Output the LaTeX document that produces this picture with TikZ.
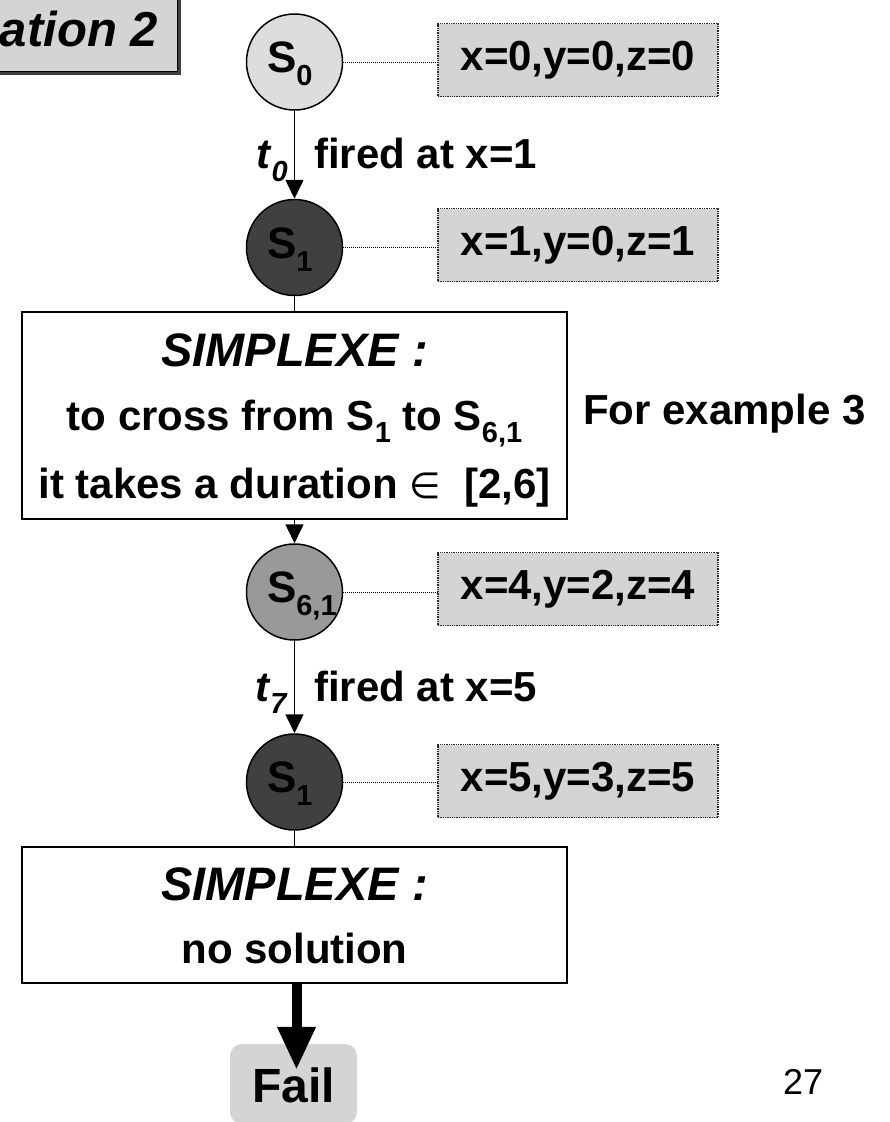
\documentclass[tikz,border=0pt]{standalone}
\usepackage{fontspec}
\setmainfont{Liberation Sans}
\newfontfamily\symfont{DejaVu Sans}
\usetikzlibrary{arrows.meta,calc}
\newcommand\mysub[1]{\raisebox{-0.3em}{\fontsize{29}{29}\selectfont #1}}
\definecolor{lgray}{HTML}{DDDDDD}
\definecolor{dgray}{HTML}{404040}
\definecolor{mgray}{HTML}{999999}
\definecolor{boxgray}{HTML}{D4D4D4}
\tikzset{
  statenode/.style={circle, draw, line width=1.5pt, minimum size=96pt, inner sep=0pt,
    text height=31pt, text depth=10pt, font=\fontsize{44}{44}\selectfont\bfseries},
  valbox/.style={draw=black!85, densely dotted, line width=1.3pt, fill=boxgray,
    minimum width=280pt, minimum height=73pt, inner sep=0pt,
    font=\fontsize{42}{42}\selectfont\bfseries},
  simbox/.style={draw, line width=2pt, fill=white, minimum width=545pt, inner sep=0pt},
  arr/.style={line width=1.6pt, -{Triangle[width=18pt,length=19pt]}},
  plain/.style={line width=1.6pt},
  link/.style={densely dotted, line width=1pt},
  lbl/.style={inner sep=0pt, font=\fontsize{42}{42}\selectfont\bfseries},
  hdr/.style={inner sep=0pt, font=\fontsize{47}{47}\selectfont\bfseries\itshape},
}
\begin{document}
\begin{tikzpicture}[x=1pt,y=-1pt]
\useasboundingbox (0,0) rectangle (890,1122);
\clip (0,0) rectangle (890,1122);
% title box (cut at the left edge)
\fill[black!75] (-40,-40) rectangle (181,75);
\node[draw, line width=1.2pt, fill=boxgray, minimum width=218pt, minimum height=112pt,
  anchor=south east, inner sep=0pt] (title) at (178,72) {};
\node[hdr, font=\fontsize{49}{49}\selectfont\bfseries\itshape, anchor=base east] (titletext) at (158,46) {ation 2};

% states and values
\node[statenode, fill=lgray] (s0) at (294.5,62) {\makebox[55pt][l]{S\mysub{0}}};
\node[valbox] (v0) at (578,60) {x=0,y=0,z=0};
\node[statenode, fill=dgray] (s1) at (294.5,247.5) {\makebox[55pt][l]{S\mysub{1}}};
\node[valbox] (v1) at (578,245) {x=1,y=0,z=1};

\node[simbox, minimum height=207pt] (x1) at (294.5,415.5) {};
\node[hdr, anchor=base] (x1a) at (294.5,366) {SIMPLEXE :};
\node[lbl, anchor=base] (x1b) at (294.5,430) {to cross from S\mysub{1} to S\mysub{6,1}};
\node[lbl, anchor=base] (x1c) at (294.5,498) {it takes a duration {\symfont\mdseries\fontsize{36}{36}\selectfont ∈}\ \ [2,6]};
\node[lbl, anchor=base west] (ex) at (583,424) {For example 3};

\node[statenode, fill=mgray] (s61) at (294.5,592) {\makebox[55pt][l]{S\mysub{6,1}}};
\node[valbox] (v2) at (578,589) {x=4,y=2,z=4};
\node[statenode, fill=dgray] (s1b) at (294.5,782) {\makebox[55pt][l]{S\mysub{1}}};
\node[valbox] (v3) at (578,781) {x=5,y=3,z=5};

\node[simbox, minimum height=136pt] (x2) at (294.5,915) {};
\node[hdr, anchor=base] (x2a) at (294.5,900) {SIMPLEXE :};
\node[lbl, anchor=base] (x2b) at (294.5,963) {no solution};

\node[fill=boxgray, rounded corners=12pt, minimum width=127pt, minimum height=80pt,
  inner sep=0pt] (fail) at (293.5,1084) {};
\node[lbl, font=\fontsize{48}{48}\selectfont\bfseries, anchor=base] (failtext) at (293.5,1102) {Fail};

\node[inner sep=0pt, font=\fontsize{36}{36}\selectfont, anchor=base west] (page) at (783,1094) {27};

% dotted links
\draw[link] (s0.east) -- (v0.west |- s0.east);
\draw[link] (s1.east) -- (v1.west |- s1.east);
\draw[link] (s61.east) -- (v2.west |- s61.east);
\draw[link] (s1b.east) -- (v3.west |- s1b.east);

% transitions
\draw[arr] (s0) -- (s1)
  node[pos=.5, lbl, anchor=base east, xshift=-6pt, yshift=-14pt] (t0) {\textit{t}\mysub{\textit{0}}}
  node[pos=.5, lbl, anchor=base west, xshift=19pt, yshift=-14pt] (f0) {fired at x=1};
\draw[plain] (s1) -- (x1.north -| s1);
\draw[arr] (x1.south -| s61) -- (s61);
\draw[arr] (s61) -- (s1b)
  node[pos=.5, lbl, anchor=base east, xshift=-6pt, yshift=-14pt] (t7) {\textit{t}\mysub{\textit{7}}}
  node[pos=.5, lbl, anchor=base west, xshift=19pt, yshift=-14pt] (f7) {fired at x=5};
\draw[plain] (s1b) -- (x2.north -| s1b);
\draw[line width=10pt, -{Triangle[width=36pt,length=43pt]}, shorten >=-26pt]
  ($(x2.south)+(2,0)$) -- ($(fail.north)+(3,0)$);
\end{tikzpicture}
\end{document}
